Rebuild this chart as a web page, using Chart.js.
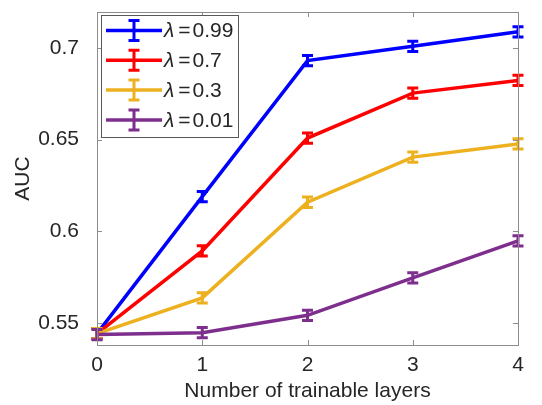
<!DOCTYPE html>
<html>
<head>
<meta charset="utf-8">
<script src="https://cdn.jsdelivr.net/npm/chart.js@4.4.1/dist/chart.umd.min.js"></script>
<style>
    html, body { margin: 0; padding: 0; background: #fff; }
    #wrap { width: 542px; height: 405px; }
</style>
</head>
<body>
<div id="wrap"><canvas id="aucChart" width="542" height="405"></canvas></div>
<script>
// values
const layers = [0, 1, 2, 3, 4];
const lambdaLabels = ["0.99", "0.7", "0.3", "0.01"];
const auc099 = [0.5442, 0.6189, 0.6930, 0.7008, 0.7087];
const auc07 = [0.5442, 0.5893, 0.6508, 0.6753, 0.6822];
const auc03 = [0.5442, 0.5637, 0.6158, 0.6404, 0.6476];
const auc001 = [0.5437, 0.5447, 0.5542, 0.5746, 0.5948];
const err099 = [0.0028, 0.0028, 0.0028, 0.0028, 0.0028];
const err07 = [0.0028, 0.0028, 0.0028, 0.0028, 0.0028];
const err03 = [0.0028, 0.0028, 0.0028, 0.0028, 0.0028];
const err001 = [0.0028, 0.0028, 0.0028, 0.0028, 0.0028];
const yTicks = [0.55, 0.6, 0.65, 0.7];
const xTicks = [0, 1, 2, 3, 4];

const colors = ["#0000ff", "#ff0000", "#edb120", "#7e2f8e"];
const FONT = "'Liberation Sans', Arial, Helvetica, sans-serif";
const TEXT = "#262626";

function makeSet(label, values, errors, color, order) {
    return {
        label: label,
        data: layers.map((x, i) => ({ x: x, y: values[i] })),
        errors: errors,
        borderColor: color,
        backgroundColor: color,
        borderWidth: 3.5,
        pointRadius: 0,
        tension: 0,
        clip: false,
        order: order
    };
}

// error bars + box with inward ticks + legend inside the axes
const matlabLook = {
    id: "matlabLook",
    afterDatasetsDraw(chart) {
        const ctx = chart.ctx;
        const xs = chart.scales.x, ys = chart.scales.y;
        chart.data.datasets.forEach(ds => {
            ctx.save();
            ctx.strokeStyle = ds.borderColor;
            ctx.lineWidth = 3;
            ds.data.forEach((p, i) => {
                const px = xs.getPixelForValue(p.x);
                const top = ys.getPixelForValue(p.y + ds.errors[i]);
                const bot = ys.getPixelForValue(p.y - ds.errors[i]);
                ctx.beginPath();
                ctx.moveTo(px, top); ctx.lineTo(px, bot);
                ctx.moveTo(px - 5.5, top); ctx.lineTo(px + 5.5, top);
                ctx.moveTo(px - 5.5, bot); ctx.lineTo(px + 5.5, bot);
                ctx.stroke();
            });
            ctx.restore();
        });
    },
    afterDraw(chart) {
        const ctx = chart.ctx;
        const a = chart.chartArea;
        const xs = chart.scales.x, ys = chart.scales.y;
        ctx.save();
        ctx.strokeStyle = "#8c8c8c";
        ctx.lineWidth = 1;
        ctx.strokeRect(Math.round(a.left) + 0.5, Math.round(a.top) + 0.5,
            Math.round(a.right - a.left), Math.round(a.bottom - a.top));
        ctx.beginPath();
        xTicks.forEach(v => {
            const px = Math.round(xs.getPixelForValue(v)) + 0.5;
            ctx.moveTo(px, a.bottom); ctx.lineTo(px, a.bottom - 5);
            ctx.moveTo(px, a.top); ctx.lineTo(px, a.top + 5);
        });
        yTicks.forEach(v => {
            const py = Math.round(ys.getPixelForValue(v)) + 0.5;
            ctx.moveTo(a.left, py); ctx.lineTo(a.left + 5, py);
            ctx.moveTo(a.right, py); ctx.lineTo(a.right - 5, py);
        });
        ctx.stroke();

        // legend
        const lx = 101, ly = 15, lw = 137, lh = 122;
        ctx.fillStyle = "#fff";
        ctx.fillRect(lx, ly, lw, lh);
        ctx.strokeStyle = "#595959";
        ctx.strokeRect(lx + 0.5, ly + 0.5, lw, lh);
        chart.data.datasets.forEach((ds, i) => {
            const cy = 30.5 + i * 29.8;
            ctx.strokeStyle = ds.borderColor;
            ctx.lineWidth = 3.5;
            ctx.beginPath();
            ctx.moveTo(106, cy); ctx.lineTo(162, cy);
            ctx.stroke();
            ctx.lineWidth = 3;
            ctx.beginPath();
            ctx.moveTo(134, cy - 10); ctx.lineTo(134, cy + 10);
            ctx.moveTo(128.5, cy - 10); ctx.lineTo(139.5, cy - 10);
            ctx.moveTo(128.5, cy + 10); ctx.lineTo(139.5, cy + 10);
            ctx.stroke();

            ctx.fillStyle = TEXT;
            ctx.textBaseline = "middle";
            ctx.textAlign = "left";
            let tx = 164;
            ctx.font = "italic 21px " + FONT;
            ctx.fillText("\u03bb", tx, cy + 1);
            tx += ctx.measureText("\u03bb").width + 4;
            ctx.font = "21px " + FONT;
            ctx.fillText("=", tx, cy + 1);
            tx += ctx.measureText("=").width + 2;
            ctx.fillText(ds.label, tx, cy + 1);
        });
        ctx.restore();
    }
};

new Chart(document.getElementById("aucChart"), {
    type: "line",
    data: {
        datasets: [
            makeSet(lambdaLabels[0], auc099, err099, colors[0], 3),
            makeSet(lambdaLabels[1], auc07, err07, colors[1], 2),
            makeSet(lambdaLabels[2], auc03, err03, colors[2], 1),
            makeSet(lambdaLabels[3], auc001, err001, colors[3], 0)
        ]
    },
    options: {
        responsive: false,
        animation: false,
        layout: { padding: { top: 12, right: 24, left: 0, bottom: 0 } },
        plugins: {
            legend: { display: false },
            tooltip: { enabled: false }
        },
        scales: {
            x: {
                type: "linear",
                min: 0,
                max: 4,
                afterBuildTicks: axis => { axis.ticks = xTicks.map(v => ({ value: v })); },
                afterFit: axis => { axis.height = 60; },
                grid: { display: false },
                border: { display: false },
                ticks: {
                    color: TEXT,
                    font: { family: FONT, size: 21 },
                    padding: 0,
                    maxRotation: 0
                },
                title: {
                    display: true,
                    text: "Number of trainable layers",
                    color: TEXT,
                    font: { family: FONT, size: 21 },
                    padding: { top: 0, bottom: 1 }
                }
            },
            y: {
                min: 0.538,
                max: 0.7195,
                afterBuildTicks: axis => { axis.ticks = yTicks.map(v => ({ value: v })); },
                afterFit: axis => {
                    axis.width = 97;
                    axis.paddingTop = 0;
                    axis.paddingBottom = 0;
                },
                grid: { display: false },
                border: { display: false },
                ticks: {
                    color: TEXT,
                    font: { family: FONT, size: 21 },
                    padding: 10,
                    callback: v => String(v)
                },
                title: {
                    display: true,
                    text: "AUC",
                    color: TEXT,
                    font: { family: FONT, size: 21 },
                    padding: { top: 11, bottom: 0 }
                }
            }
        }
    },
    plugins: [matlabLook]
});
</script>
</body>
</html>
